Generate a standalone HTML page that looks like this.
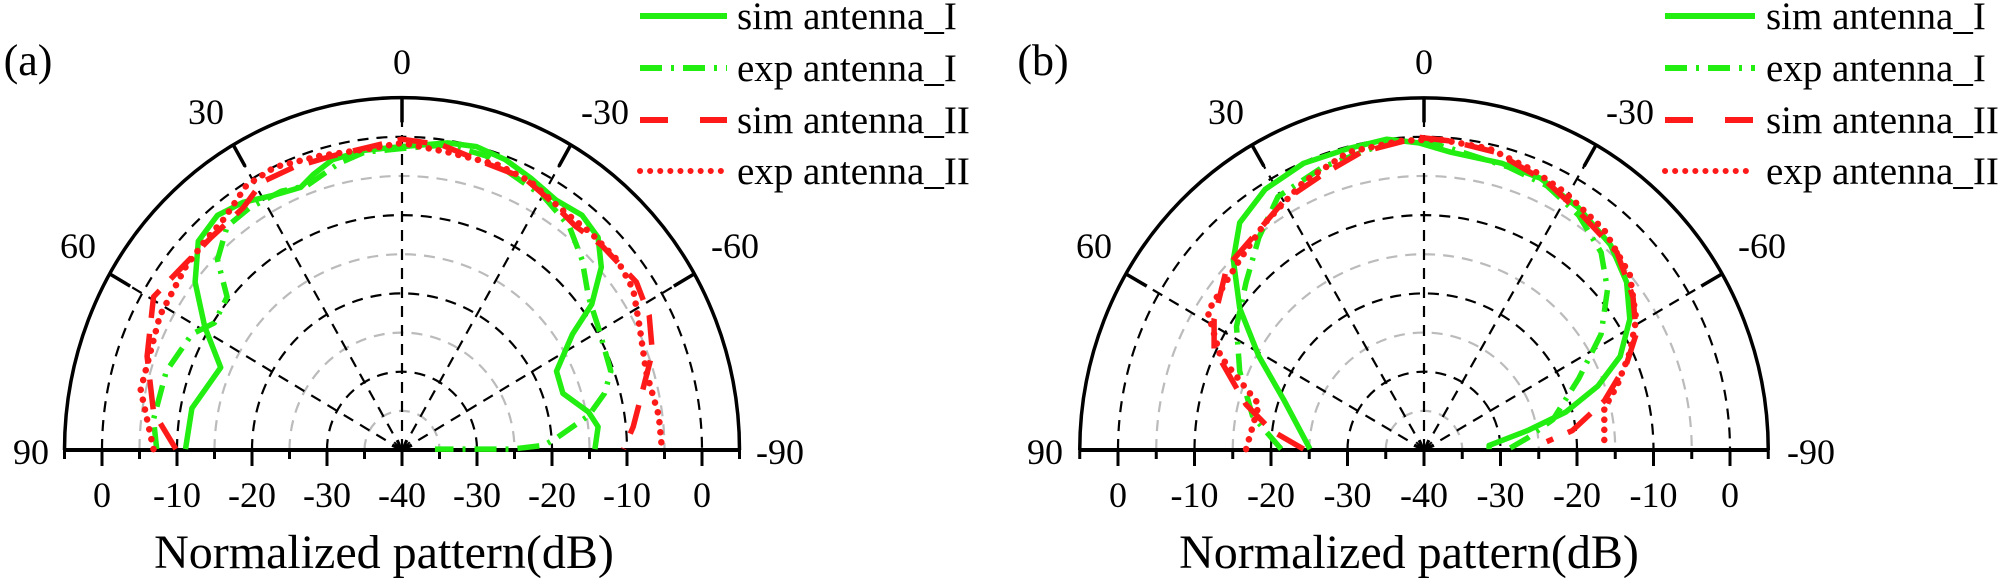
<!DOCTYPE html>
<html><head><meta charset="utf-8"><style>
html,body{margin:0;padding:0;background:#fff;}
svg{display:block;}
</style></head><body>
<svg id="s" width="2006" height="582" viewBox="0 0 2006 582" xmlns="http://www.w3.org/2000/svg" font-family="'Liberation Serif', 'Times New Roman', serif"></svg>
<script>
const S=document.getElementById('s');
let h='';
function el(t){h+=t;}
const G='#22ee11',R='#ff1a1a';
function panel(cx,cy,kx,ky,ox,label,data){
  for(let d=5;d<=40;d+=5){
    const rx=d*kx, ry=d*ky;
    const black=(d%10===0);
    el(`<path d="M${cx-rx},${cy} A${rx},${ry} 0 0 1 ${cx+rx},${cy}" fill="none" stroke="${black?'#000':'#bbb'}" stroke-width="2.2" stroke-dasharray="11,8"/>`);
  }
  for(const a of [-60,-30,0,30,60]){
    const t=a*Math.PI/180;
    el(`<line x1="${cx}" y1="${cy}" x2="${cx-45*kx*Math.sin(t)}" y2="${cy-45*ky*Math.cos(t)}" stroke="#000" stroke-width="2.2" stroke-dasharray="11,8"/>`);
  }
  for(let a=-90;a<=90;a+=22.5){
    const t=a*Math.PI/180;
    el(`<line x1="${cx}" y1="${cy}" x2="${cx-11*Math.sin(t)}" y2="${cy-11*Math.cos(t)}" stroke="#000" stroke-width="2"/>`);
  }
  const RX=45*kx,RY=45*ky;
  el(`<path d="M${cx-RX},${cy} A${RX},${RY} 0 0 1 ${cx+RX},${cy}" fill="none" stroke="#000" stroke-width="3.5"/>`);
  for(const a of [-60,-30,0,30,60]){
    const t=a*Math.PI/180;
    el(`<line x1="${cx-RX*Math.sin(t)}" y1="${cy-RY*Math.cos(t)}" x2="${cx-RX*0.93*Math.sin(t)}" y2="${cy-RY*0.93*Math.cos(t)}" stroke="#000" stroke-width="3.5"/>`);
  }
  el(`<line x1="${cx-RX}" y1="${cy}" x2="${cx+RX}" y2="${cy}" stroke="#000" stroke-width="4"/>`);
  for(let d=-45;d<=45;d+=5){
    const x=cx+d*kx; const maj=(d%10===0)&&Math.abs(d)<=40;
    el(`<line x1="${x}" y1="${cy}" x2="${x}" y2="${cy+(maj?16:9)}" stroke="#000" stroke-width="3"/>`);
  }
  const labs=['0','-10','-20','-30','-40','-30','-20','-10','0'];
  labs.forEach((l,i)=>{lab(cx+(i-4)*10*kx,cy+57,l,36);});
  const sc=(p)=>p.map(q=>[(ox+q[0]/1.5634).toFixed(1),(q[1]/2.6942).toFixed(1)]);
  const styles=[
    [G,'none','butt'],
    [G,'22,9,3,9','butt'],
    [R,'30,16','butt'],
    [R,'0.1,10','round']];
  data.forEach((pts,i)=>{
    const p=sc(pts); const st=styles[i];
    let d='M'+p[0].join(',');
    for(let k=1;k<p.length;k++){d+=' L'+p[k].join(',');}
    el(`<path d="${d}" fill="none" stroke="${st[0]}" stroke-width="${i==3?6.5:5.5}" stroke-linejoin="round" stroke-linecap="${st[2]}" ${st[1]!=='none'?`stroke-dasharray="${st[1]}"`:''}/>`);
  });
}
function lab(x,y,t,s,anc){el(`<text x="${x}" y="${y}" font-size="${s}" font-family="'Liberation Serif', 'Times New Roman', serif" fill="#000" text-anchor="${anc||'middle'}">${t}</text>`);}
const A=[
[[290,1210],[300,1100],[345,990],[320,880],[305,760],[310,650],[340,580],[380,545],[430,525],[470,505],[490,470],[520,430],[570,405],[628,395],[700,385],[745,395],[790,430],[830,480],[870,540],[910,580],[935,640],[940,720],[925,820],[895,900],[870,1000],[880,1060],[920,1110],[935,1150],[930,1210]],
[[245,1210],[240,1130],[260,1000],[300,900],[335,870],[355,800],[340,700],[355,610],[390,560],[440,515],[480,500],[530,440],[570,410],[628,400],[700,390],[760,420],[800,470],[850,530],[890,610],[910,700],[920,800],[935,880],[955,1000],[945,1060],[920,1120],[870,1180],[850,1200],[800,1210],[680,1210]],
[[275,1210],[240,1110],[230,960],[240,800],[290,710],[330,640],[380,560],[410,490],[460,450],[520,420],[628,375],[690,390],[760,440],[820,480],[860,540],[900,610],[940,660],[995,760],[1015,850],[1020,950],[1005,1050],[990,1150],[975,1210]],
[[240,1210],[220,1050],[250,850],[290,720],[320,650],[350,590],[385,500],[430,450],[500,420],[580,400],[628,385],[700,410],[780,445],[830,490],[875,560],[925,630],[965,700],[990,780],[1000,880],[1010,1000],[1030,1120],[1035,1210]]];
const B=[
[[480,1210],[440,1080],[400,960],[370,830],[360,700],[370,600],[410,510],[470,440],[540,400],[600,375],[650,385],[700,410],[780,440],[840,480],[900,560],[950,660],[975,760],[980,860],[965,960],[930,1040],[880,1110],[820,1160],[760,1200],[760,1210]],
[[435,1210],[390,1120],[370,1000],[365,880],[380,760],[400,640],[430,530],[500,450],[600,385],[650,375],[700,400],[790,450],[850,500],[900,580],[935,680],[945,780],[935,900],[900,1020],[860,1130],[820,1180],[790,1210]],
[[470,1210],[420,1160],[380,1090],[330,940],[330,860],[350,720],[400,620],[440,540],[500,470],[560,410],[650,370],[700,380],[770,410],[850,490],[900,570],[960,680],[985,800],[990,900],[975,980],[940,1080],[890,1160],[850,1190]],
[[380,1210],[400,1090],[340,960],[320,840],[370,700],[410,600],[470,490],[540,410],[620,380],[680,375],[760,400],[830,460],[880,520],[940,620],[980,740],[990,860],[980,950],[960,1040],[940,1100],[940,1210]]];
panel(402,450,7.5,7.83,0,'a',A);
panel(1424,450,7.65,7.83,1003,'b',B);
lab(28,75,'(a)',44);lab(402,74,'0',36);lab(206,124,'30',36);lab(605,124,'-30',36);
lab(78,258,'60',36);lab(735,258,'-60',36);lab(31,464,'90',36);lab(780,464,'-90',36);
lab(384,568,'Normalized pattern(dB)',48);
lab(1043,75,'(b)',44);lab(1424,74,'0',36);lab(1226,124,'30',36);lab(1630,124,'-30',36);
lab(1094,258,'60',36);lab(1762,258,'-60',36);lab(1045,464,'90',36);lab(1811,464,'-90',36);
lab(1409,568,'Normalized pattern(dB)',48);
function legend(x1,x2,tx){
  const names=['sim antenna_I','exp antenna_I','sim antenna_II','exp antenna_II'];
  const ys=[16,68,120,171];
  const st=[[G,''],[G,'22,9,3,9'],[R,'28,32'],[R,'0.1,10']];
  names.forEach((n,i)=>{
    el(`<line x1="${x1}" y1="${ys[i]}" x2="${x2}" y2="${ys[i]}" stroke="${st[i][0]}" stroke-width="6" stroke-linecap="${i==3?'round':'butt'}" ${st[i][1]?`stroke-dasharray="${st[i][1]}"`:''}/>`);
    lab(tx,ys[i]+13,n,39,'start');
  });
}
legend(640,727,737);
legend(1665,1755,1766);
S.innerHTML=h;
</script>
</body></html>
